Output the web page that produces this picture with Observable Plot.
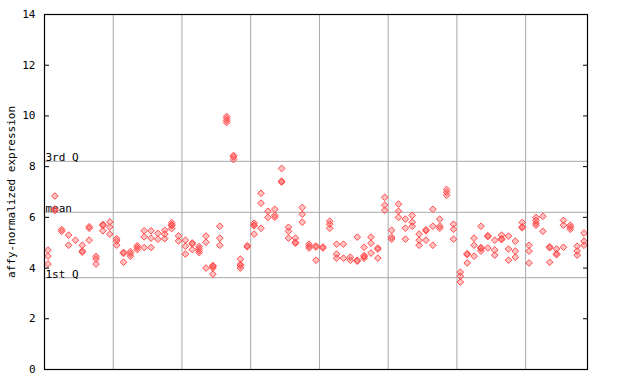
<!DOCTYPE html>
<html>
<head>
<meta charset="utf-8">
<script src="https://cdn.jsdelivr.net/npm/d3@7"></script>
<script src="https://cdn.jsdelivr.net/npm/@observablehq/plot@0.6"></script>
<style>
  html, body { margin: 0; padding: 0; background: #fff; }
</style>
</head>
<body>
<div id="chart"></div>
<script>
// sample columns, grouped by the 8 vertical sections
const section1 = [[4.71,4.47,4.16],[6.84,6.33,6.27],[5.52,5.45],[5.3,4.9],[5.1],[4.9,4.67,4.63],[5.63,5.57,5.1],[4.46,4.36,4.16],[5.72,5.68,5.47],[5.82,5.62,5.34]];
const section2 = [[5.16,5.07,4.9],[4.62,4.58,4.23],[4.65,4.57,4.47],[4.88,4.81,4.73],[5.47,5.23,4.81],[5.47,5.18,4.81],[5.37,5.14],[5.49,5.34,5.16],[5.79,5.71,5.67,5.56],[5.27,5.07]];
const section3 = [[5.1,4.86,4.55],[4.99,4.95,4.73],[4.85,4.77,4.69,4.61],[5.26,5.02,4.0],[4.1,4.06,4.0,3.76],[5.65,5.18,4.9],[9.98,9.9,9.82,9.74],[8.44,8.38,8.28],[4.35,4.14,4.1,4.0],[4.88,4.84]];
const section4 = [[5.77,5.69,5.67,5.34],[6.95,6.56,5.57],[6.24,6.0],[6.32,6.08,6.0],[7.93,7.43,7.39],[5.61,5.45,5.18],[5.18,5.02,4.98],[6.39,6.12,5.81],[4.94,4.86,4.79],[4.87,4.83,4.31]];
const section5 = [[4.83,4.79],[5.85,5.73,5.57],[4.94,4.55,4.39],[4.94,4.39],[4.43,4.31],[5.22,4.31,4.27],[4.82,4.49,4.45,4.39],[5.22,4.98,4.59],[4.79,4.75,4.39],[6.79,6.48,6.28]];
const section6 = [[5.49,5.22,5.14],[6.52,6.24,6.0],[5.93,5.57,5.14],[6.08,5.81,5.65],[5.34,5.1,4.9],[5.51,5.47,5.1],[6.32,5.65,4.9],[5.93,5.65,5.57],[7.1,6.99,6.87],[5.73,5.53,5.14]];
const section7 = [[3.84,3.68,3.45],[4.57,4.53,4.2],[5.18,4.9,4.47],[5.65,4.81,4.77,4.67],[5.28,5.24,4.79],[5.1,4.71,4.51],[5.3,5.16,5.12],[5.26,4.75,4.31],[5.06,4.67,4.43],[5.8,5.63,5.59]];
const section8 = [[4.9,4.67,4.2],[6.0,5.88,5.77,5.69],[6.04,5.45],[4.84,4.8,4.23],[4.75,4.57,4.53],[5.88,5.69,4.82],[5.69,5.61,5.53],[4.86,4.67,4.51],[5.38,5.06,4.9]];

const sections = [section1, section2, section3, section4, section5, section6, section7, section8];
const quartileValues = [3.62, 6.2, 8.21];
const quartileLabels = ["1st Q", "mean", "3rd Q"];
const yTicks = [0, 2, 4, 6, 8, 10, 12, 14];
const yLabel = "affy-normalized expression";

// build tables
const columns = sections.flat();
const nSamples = columns.length;
const points = columns.flatMap((vals, i) => vals.map(v => ({sample: i + 0.5, value: v})));
const boundaries = [];
{ let c = 0; sections.slice(0, -1).forEach(s => { c += s.length; boundaries.push(c); }); }
const quartiles = quartileValues.map((v, k) => ({value: v, label: quartileLabels[k]}));

const red = "#ff4d4d";
const grid = "#a8a8a8";

const chart = Plot.plot({
  width: 640,
  height: 384,
  marginLeft: 44,
  marginRight: 53,
  marginTop: 14,
  marginBottom: 15,
  style: {fontFamily: "DejaVu Sans Mono", fontSize: "10px", background: "#fff"},
  x: {domain: [0, nSamples], axis: null},
  y: {domain: [0, 14], axis: null},
  marks: [
    Plot.ruleX(boundaries, {stroke: grid, strokeWidth: 1}),
    Plot.ruleY(quartiles, {y: "value", stroke: grid, strokeWidth: 1}),
    Plot.text(quartiles, {x: 0, y: "value", text: "label", textAnchor: "start", lineAnchor: "bottom", dx: 1, dy: 0, fill: "black", fontSize: 11}),
    Plot.dot(points, {x: "sample", y: "value", symbol: "diamond2", r: 3, fill: red, fillOpacity: 0.35, stroke: red, strokeWidth: 1}),
    Plot.axisY({ticks: yTicks, tickSize: 0, tickPadding: 9, label: null, fontSize: 11}),
    Plot.axisY({ticks: yTicks, tickSize: -5, text: null, label: null}),
    Plot.axisY({anchor: "right", ticks: yTicks, tickSize: -5, text: null, label: null}),
    Plot.text([yLabel], {frameAnchor: "left", text: d => d, rotate: -90, textAnchor: "middle", dx: -33, fontSize: 11, fill: "black"}),
    Plot.frame({stroke: "black", strokeWidth: 1.2})
  ]
});
document.getElementById("chart").appendChild(chart);
</script>
</body>
</html>
